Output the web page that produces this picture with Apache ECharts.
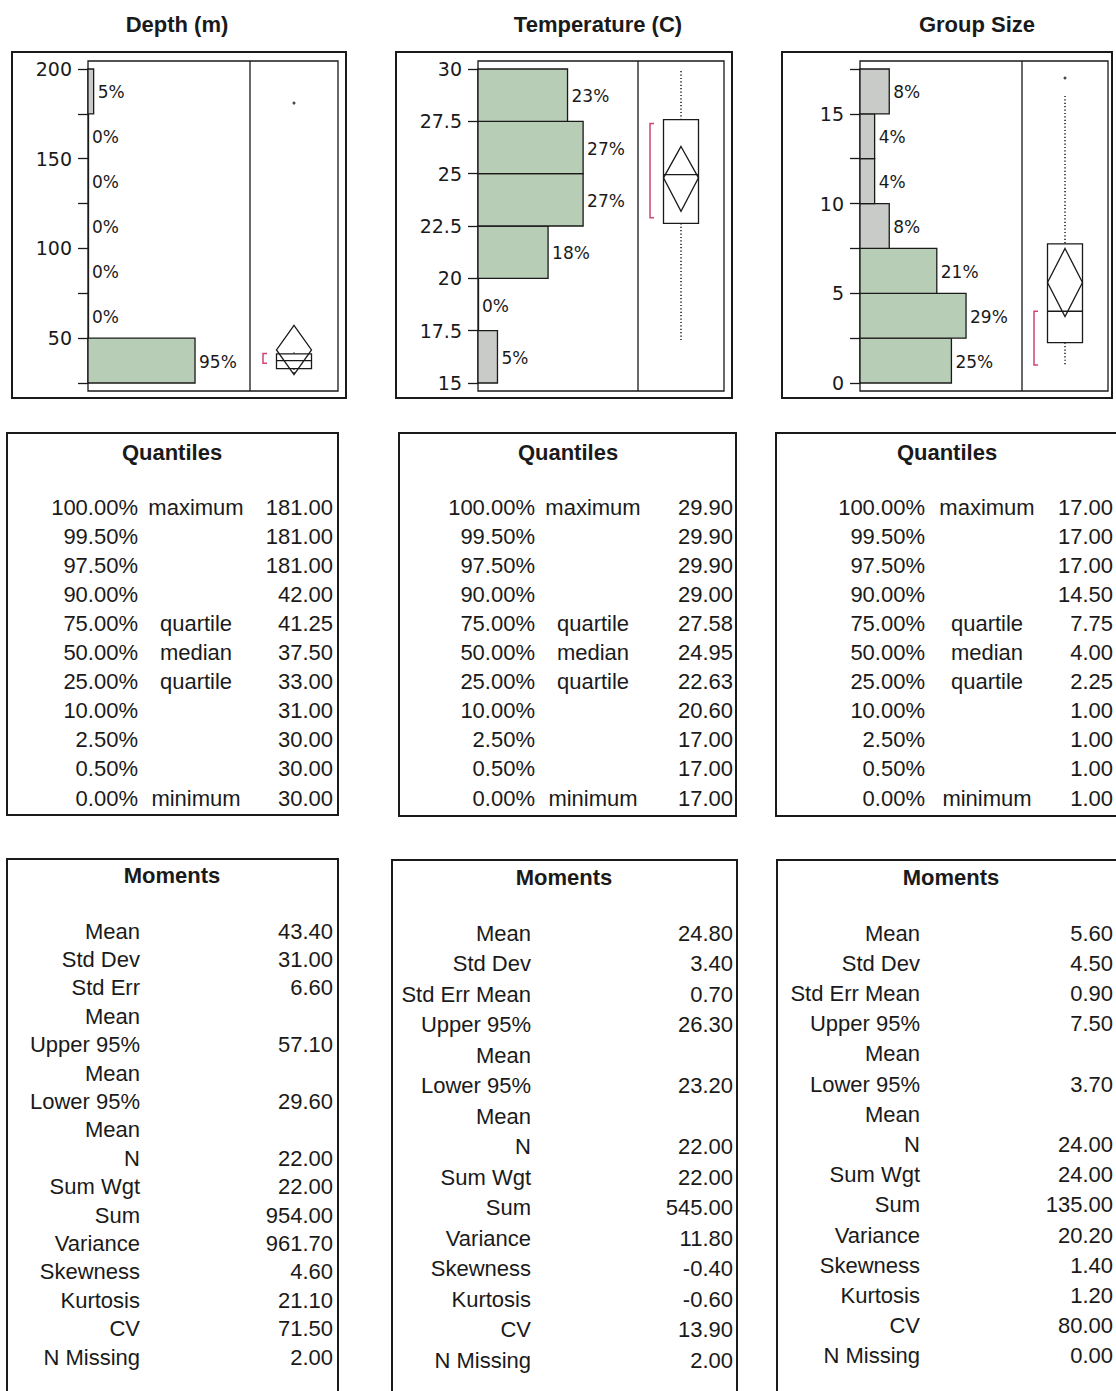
<!DOCTYPE html>
<html>
<head>
<meta charset="utf-8">
<script src="https://cdn.jsdelivr.net/npm/echarts@6/dist/echarts.min.js"></script>
<style>
html, body { margin: 0; padding: 0; background: #fff; }
#main { width: 1116px; height: 1391px; }
</style>
</head>
<body>
<div id="main"></div>
<script>
// histogram bin edges and percent of rows in each bin
const depthEdges = [25, 50, 75, 100, 125, 150, 175, 200];
const depthPct = [95, 0, 0, 0, 0, 0, 5];
const tempEdges = [15, 17.5, 20, 22.5, 25, 27.5, 30];
const tempPct = [5, 0, 18, 27, 27, 23];
const groupEdges = [0, 2.5, 5, 7.5, 10, 12.5, 15, 17.5];
const groupPct = [25, 29, 21, 8, 4, 4, 8];

// outlier box: whisker low, q1, median, q3, whisker high
const depthBox = [30, 33, 37.5, 41.25, 42];
const tempBox = [17, 22.63, 24.95, 27.58, 29.9];
const groupBox = [1, 2.25, 4, 7.75, 16];
// mean diamond: lower 95%, mean, upper 95%
const depthDiamond = [29.6, 43.4, 57.1];
const tempDiamond = [23.2, 24.8, 26.3];
const groupDiamond = [3.7, 5.6, 7.5];
// shortest half bracket
const depthShortest = [36, 41.5];
const tempShortest = [22.9, 27.4];
const groupShortest = [1, 4];
const depthOutliers = [181];
const tempOutliers = [];
const groupOutliers = [17];

// quantiles table
const quantileLevels = ['100.00%', '99.50%', '97.50%', '90.00%', '75.00%', '50.00%', '25.00%', '10.00%', '2.50%', '0.50%', '0.00%'];
const quantileNames = ['maximum', '', '', '', 'quartile', 'median', 'quartile', '', '', '', 'minimum'];
const depthQuantiles = [181, 181, 181, 42, 41.25, 37.5, 33, 31, 30, 30, 30];
const tempQuantiles = [29.9, 29.9, 29.9, 29, 27.58, 24.95, 22.63, 20.6, 17, 17, 17];
const groupQuantiles = [17, 17, 17, 14.5, 7.75, 4, 2.25, 1, 1, 1, 1];

// moments table
const momentNames = ['Mean', 'Std Dev', 'Std Err Mean', 'Upper 95% Mean', 'Lower 95% Mean', 'N', 'Sum Wgt', 'Sum', 'Variance', 'Skewness', 'Kurtosis', 'CV', 'N Missing'];
const depthMoments = [43.4, 31, 6.6, 57.1, 29.6, 22, 22, 954, 961.7, 4.6, 21.1, 71.5, 2];
const tempMoments = [24.8, 3.4, 0.7, 26.3, 23.2, 22, 22, 545, 11.8, -0.4, -0.6, 13.9, 2];
const groupMoments = [5.6, 4.5, 0.9, 7.5, 3.7, 24, 24, 135, 20.2, 1.4, 1.2, 80, 0];

const titles = ['Depth (m)', 'Temperature (C)', 'Group Size'];

const GREEN = '#b8cdb5';
const GRAY = '#c9cbc9';
const INK = '#1a1a1a';
const RED = '#d2456f';
const TABLE_FONT = '"Liberation Sans", Arial, sans-serif';
const AXIS_FONT = '"DejaVu Sans", Verdana, sans-serif';

const panels = [
  {
    edges: depthEdges, pct: depthPct, box: depthBox, diamond: depthDiamond, shortest: depthShortest, outliers: depthOutliers,
    quant: depthQuantiles, moments: depthMoments,
    yMin: 25, yMax: 200, step: 25, major: 50, pctMax: 143.8,
    hist: [88, 162], boxArea: [250, 88], outer: [12, 52, 346, 398], inner: [88, 61, 338, 391], titleX: 177,
    q: { rect: [7, 433, 338, 815], title: 172, pct: 138, name: 196, val: 333 },
    m: { rect: [7, 859, 338, 1420], title: 172, titleY: 875, label: 140, val: 333, wrap: 118, y0: 931, pitch: 28.4 }
  },
  {
    edges: tempEdges, pct: tempPct, box: tempBox, diamond: tempDiamond, shortest: tempShortest, outliers: tempOutliers,
    quant: tempQuantiles, moments: tempMoments,
    yMin: 15, yMax: 30, step: 2.5, major: 2.5, pctMax: 41.1,
    hist: [478, 160], boxArea: [638, 86], outer: [396, 52, 732, 398], inner: [478, 61, 724, 391], titleX: 598,
    q: { rect: [399, 433, 736, 816], title: 568, pct: 535, name: 593, val: 733 },
    m: { rect: [392, 860, 737, 1420], title: 564, titleY: 877, label: 531, val: 733, wrap: 140, y0: 933, pitch: 30.5 }
  },
  {
    edges: groupEdges, pct: groupPct, box: groupBox, diamond: groupDiamond, shortest: groupShortest, outliers: groupOutliers,
    quant: groupQuantiles, moments: groupMoments,
    yMin: 0, yMax: 17.5, step: 2.5, major: 5, pctMax: 44.3,
    hist: [860, 162], boxArea: [1022, 86], outer: [782, 52, 1112, 398], inner: [860, 61, 1108, 391], titleX: 977,
    q: { rect: [776, 433, 1140, 816], title: 947, pct: 925, name: 987, val: 1113 },
    m: { rect: [777, 860, 1140, 1420], title: 951, titleY: 877, label: 920, val: 1113, wrap: 140, y0: 933, pitch: 30.2 }
  }
];

const PLOT_TOP = 69, PLOT_H = 314;

// greedy word wrap using real text widths
const measureCtx = document.createElement('canvas').getContext('2d');
function wrapLabel(text, width) {
  measureCtx.font = '22px ' + TABLE_FONT;
  const words = text.split(' ');
  const lines = [];
  let cur = '';
  words.forEach(w => {
    const next = cur ? cur + ' ' + w : w;
    if (cur && measureCtx.measureText(next).width > width) {
      lines.push(cur);
      cur = w;
    } else {
      cur = next;
    }
  });
  lines.push(cur);
  return lines;
}

function txt(x, y, text, align, opts) {
  opts = opts || {};
  return {
    type: 'text',
    silent: true,
    style: {
      x: x, y: y, text: text,
      textAlign: align, align: align,
      textVerticalAlign: 'middle', verticalAlign: 'middle',
      fontSize: opts.size || 22,
      fontWeight: opts.bold ? 'bold' : 'normal',
      fontFamily: opts.family || TABLE_FONT,
      fill: opts.color || INK
    }
  };
}

function rect(r, lw) {
  return {
    type: 'rect', silent: true,
    shape: { x: r[0], y: r[1], width: r[2] - r[0], height: r[3] - r[1] },
    style: { fill: 'none', stroke: INK, lineWidth: lw }
  };
}

const grid = [], xAxis = [], yAxis = [], series = [], graphic = [];

panels.forEach((p, i) => {
  const hi = i * 2, bi = i * 2 + 1;
  grid.push({ left: p.hist[0], top: PLOT_TOP, width: p.hist[1], height: PLOT_H });
  grid.push({ left: p.boxArea[0], top: PLOT_TOP, width: p.boxArea[1], height: PLOT_H });

  xAxis.push({ gridIndex: hi, type: 'value', min: 0, max: p.pctMax, show: false });
  xAxis.push({ gridIndex: bi, type: 'value', min: 0, max: 1, show: false });

  yAxis.push({
    gridIndex: hi, type: 'value', min: p.yMin, max: p.yMax, interval: p.step,
    axisLine: { show: true, lineStyle: { color: INK, width: 1.3 } },
    axisTick: { show: true, length: 10, lineStyle: { color: INK, width: 1.3 } },
    splitLine: { show: false },
    axisLabel: {
      showMinLabel: true, showMaxLabel: true, margin: 16,
      fontFamily: AXIS_FONT, fontSize: 19, color: INK,
      formatter: v => (Math.abs(v / p.major - Math.round(v / p.major)) < 1e-6 ? String(v) : '')
    }
  });
  yAxis.push({ gridIndex: bi, type: 'value', min: p.yMin, max: p.yMax, show: false });

  // histogram bars, drawn sideways
  series.push({
    type: 'custom', xAxisIndex: hi, yAxisIndex: hi, silent: true,
    data: p.pct.map((v, k) => [v, p.edges[k], p.edges[k + 1]]),
    renderItem: (params, api) => {
      const v = api.value(0);
      const a = api.coord([0, api.value(2)]);
      const b = api.coord([v, api.value(1)]);
      const kids = [];
      if (v > 0) {
        kids.push({
          type: 'rect',
          shape: { x: a[0], y: a[1], width: b[0] - a[0], height: b[1] - a[1] },
          style: { fill: v < 10 ? GRAY : GREEN, stroke: INK, lineWidth: 1.3 }
        });
      }
      kids.push({
        type: 'text',
        style: {
          x: b[0] + 4, y: (a[1] + b[1]) / 2 + 1, text: v + '%',
          align: 'left', verticalAlign: 'middle',
          fontFamily: AXIS_FONT, fontSize: 17, fill: INK
        }
      });
      return { type: 'group', children: kids };
    }
  });

  // outlier box plot with mean diamond and shortest half bracket
  series.push({
    type: 'custom', xAxisIndex: bi, yAxisIndex: bi, silent: true,
    data: [[0.5].concat(p.box, p.diamond, p.shortest)],
    renderItem: (params, api) => {
      const cx = api.coord([api.value(0), p.yMin])[0];
      const y = k => api.coord([api.value(0), api.value(k)])[1];
      const hw = 17.5;
      const line = (x1, y1, x2, y2, extra) => Object.assign({
        type: 'line', shape: { x1: x1, y1: y1, x2: x2, y2: y2 },
        style: { stroke: INK, lineWidth: 1.3 }
      }, extra || {});
      const dotted = { style: { stroke: INK, lineWidth: 1.5, lineDash: [1.2, 2.2] } };
      const bx = cx - 31;
      return {
        type: 'group',
        children: [
          line(cx, y(5), cx, y(4), dotted),
          line(cx, y(2), cx, y(1), dotted),
          {
            type: 'rect',
            shape: { x: cx - hw, y: y(4), width: hw * 2, height: y(2) - y(4) },
            style: { fill: '#fff', stroke: INK, lineWidth: 1.3 }
          },
          line(cx - hw, y(3), cx + hw, y(3)),
          {
            type: 'polygon',
            shape: { points: [[cx, y(8)], [cx + hw, y(7)], [cx, y(6)], [cx - hw, y(7)]] },
            style: { fill: 'none', stroke: INK, lineWidth: 1.3 }
          },
          {
            type: 'polyline',
            shape: { points: [[bx + 4, y(10)], [bx, y(10)], [bx, y(9)], [bx + 4, y(9)]] },
            style: { fill: 'none', stroke: RED, lineWidth: 1.5 }
          }
        ]
      };
    }
  });

  series.push({
    type: 'scatter', xAxisIndex: bi, yAxisIndex: bi, silent: true,
    symbol: 'circle', symbolSize: 3,
    itemStyle: { color: INK },
    data: p.outliers.map(v => [0.5, v])
  });

  // frames and title
  graphic.push(txt(p.titleX, 24, titles[i], 'center', { bold: true }));
  graphic.push(rect(p.outer, 2));
  graphic.push(rect(p.inner, 1.3));
  graphic.push({
    type: 'line', silent: true,
    shape: { x1: p.boxArea[0], y1: p.inner[1], x2: p.boxArea[0], y2: p.inner[3] },
    style: { stroke: INK, lineWidth: 1.3 }
  });

  // quantiles table
  graphic.push(rect(p.q.rect, 2));
  graphic.push(txt(p.q.title, 452, 'Quantiles', 'center', { bold: true }));
  quantileLevels.forEach((lvl, k) => {
    const yy = 507 + k * 29.1;
    graphic.push(txt(p.q.pct, yy, lvl, 'right'));
    if (quantileNames[k]) graphic.push(txt(p.q.name, yy, quantileNames[k], 'center'));
    graphic.push(txt(p.q.val, yy, p.quant[k].toFixed(2), 'right'));
  });

  // moments table
  graphic.push(rect(p.m.rect, 2));
  graphic.push(txt(p.m.title, p.m.titleY, 'Moments', 'center', { bold: true }));
  let lineNo = 0;
  momentNames.forEach((name, k) => {
    const lines = wrapLabel(name, p.m.wrap);
    const yy = p.m.y0 + lineNo * p.m.pitch;
    lines.forEach((ln, j) => {
      graphic.push(txt(p.m.label, yy + j * p.m.pitch, ln, 'right'));
    });
    graphic.push(txt(p.m.val, yy, p.moments[k].toFixed(2), 'right'));
    lineNo += lines.length;
  });
});

const chart = echarts.init(document.getElementById('main'), null, { renderer: 'svg' });
chart.setOption({
  animation: false,
  backgroundColor: '#fff',
  grid: grid,
  xAxis: xAxis,
  yAxis: yAxis,
  series: series,
  graphic: graphic
});
</script>
</body>
</html>
